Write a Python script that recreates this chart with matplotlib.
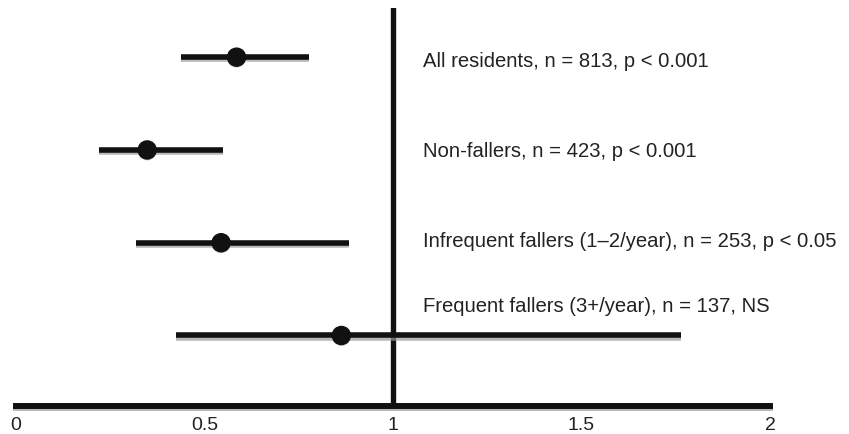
import matplotlib
matplotlib.use('Agg')
import matplotlib.pyplot as plt
import matplotlib.patheffects as pe

plt.rcParams['font.family'] = ['Liberation Sans', 'DejaVu Sans']

labels = ['All residents, n = 813, p < 0.001',
          'Non-fallers, n = 423, p < 0.001',
          'Infrequent fallers (1\u20132/year), n = 253, p < 0.05',
          'Frequent fallers (3+/year), n = 137, NS']
estimate = [0.585, 0.348, 0.544, 0.863]
ci_low = [0.438, 0.220, 0.318, 0.424]
ci_high = [0.777, 0.548, 0.882, 1.764]
xticks = [0, 0.5, 1, 1.5, 2]
xticklabels = ['0', '0.5', '1', '1.5', '2']

# row positions (top to bottom) and baseline of each label
rows = [4, 3, 2, 1]
label_y = [3.90, 2.93, 1.96, 1.26]

ink = '#111111'
shadow = [pe.SimpleLineShadow(offset=(0, -1.5), shadow_color='#999999', alpha=0.7),
          pe.Normal()]

fig = plt.figure(figsize=(8.49, 4.35), dpi=100)
ax = fig.add_axes([16 / 849, 28 / 435, 754 / 849, 398 / 435])

ax.axvline(1, color=ink, lw=3.8, zorder=2, path_effects=shadow)

for y, lo, hi, est, lab, ly in zip(rows, ci_low, ci_high, estimate, labels, label_y):
    ax.plot([lo, hi], [y, y], color=ink, lw=4.0, solid_capstyle='butt',
            zorder=3, path_effects=shadow)
    ax.plot(est, y, 'o', color=ink, ms=13, zorder=4,
            path_effects=[pe.SimplePatchShadow(offset=(0, -1), shadow_rgbFace='#999999', alpha=0.6), pe.Normal()])
    ax.text(1.08, ly, lab, fontsize=14.6, color='#222222', va='baseline', ha='left')

ax.set_xlim(0, 2)
ax.set_ylim(0.24, 4.53)
ax.set_xticks(xticks)
ax.set_xticklabels(xticklabels, fontsize=14, color='#222222')
ax.tick_params(axis='x', length=0, pad=7.5)
ax.set_yticks([])
for s in ['left', 'right', 'top']:
    ax.spines[s].set_visible(False)
ax.spines['bottom'].set_linewidth(4.3)
ax.spines['bottom'].set_color(ink)
ax.spines['bottom'].set_path_effects(shadow)
ax.patch.set_alpha(0)

fig.savefig('out.png', dpi=100)
